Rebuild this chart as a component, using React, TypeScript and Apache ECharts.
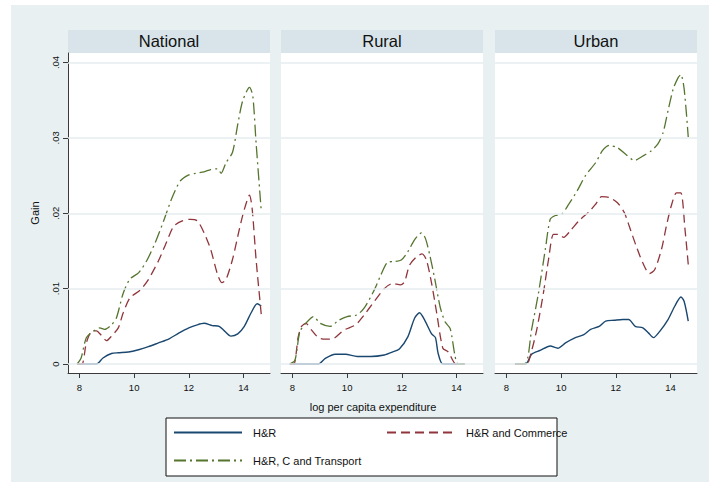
import React, { useEffect, useRef } from "react";
import * as echarts from "echarts";

const panels = ["National", "Rural", "Urban"];
const seriesNames = ["H&R", "H&R and Commerce", "H&R, C and Transport"];
const xTicks = [8, 10, 12, 14];
const yTicks = [0, 0.01, 0.02, 0.03, 0.04];

// National
const nationalHR: [number, number][] = [
  [7.91, 0], [8.62, 0], [8.86, 0.0008], [9.17, 0.0014], [9.42, 0.0015], [9.79, 0.0016],
  [10.16, 0.0019], [10.52, 0.0023], [10.89, 0.0028], [11.26, 0.0033], [11.63, 0.0041],
  [12.0, 0.0048], [12.31, 0.0052], [12.56, 0.0054], [12.86, 0.0051], [13.11, 0.005],
  [13.3, 0.0044], [13.54, 0.0037], [13.79, 0.004], [14.03, 0.005], [14.28, 0.0068],
  [14.5, 0.008], [14.65, 0.0077],
];
const nationalHRC: [number, number][] = [
  [7.91, 0], [8.09, 0], [8.25, 0.0028], [8.43, 0.0043], [8.62, 0.0044], [8.8, 0.0038],
  [8.99, 0.0031], [9.17, 0.0037], [9.42, 0.0048], [9.6, 0.0068], [9.85, 0.0088],
  [10.22, 0.0098], [10.52, 0.0112], [10.89, 0.0137], [11.2, 0.0163], [11.45, 0.0183],
  [11.76, 0.019], [12.06, 0.0192], [12.31, 0.019], [12.56, 0.0174], [12.8, 0.0152],
  [13.05, 0.0119], [13.21, 0.0108], [13.36, 0.0112], [13.6, 0.0139], [13.85, 0.0179],
  [14.03, 0.0205], [14.22, 0.0224], [14.32, 0.0205], [14.46, 0.0139], [14.65, 0.0066],
];
const nationalHRCT: [number, number][] = [
  [7.91, 0], [8.06, 0.0008], [8.25, 0.0035], [8.49, 0.0043], [8.74, 0.0048], [8.92, 0.0046],
  [9.17, 0.0052], [9.35, 0.0061], [9.6, 0.0094], [9.85, 0.0113], [10.16, 0.0121],
  [10.46, 0.0137], [10.77, 0.0161], [11.08, 0.019], [11.39, 0.0221], [11.69, 0.0243],
  [12.0, 0.0251], [12.25, 0.0253], [12.56, 0.0255], [12.8, 0.0258], [13.05, 0.0259],
  [13.18, 0.0253], [13.36, 0.0267], [13.6, 0.0281], [13.79, 0.0318], [13.97, 0.0349],
  [14.22, 0.0367], [14.34, 0.0356], [14.46, 0.0294], [14.65, 0.0203],
];

// Rural
const ruralHR: [number, number][] = [
  [7.9, 0], [8.95, 0], [9.2, 0.00075], [9.57, 0.0013], [9.94, 0.0013], [10.37, 0.001],
  [10.86, 0.001], [11.36, 0.0012], [11.67, 0.0016], [11.91, 0.002], [12.22, 0.0036],
  [12.47, 0.0061], [12.65, 0.0068], [12.84, 0.0058], [13.09, 0.004], [13.23, 0.0035],
  [13.33, 0.0014], [13.5, 0], [14.3, 0],
];
const ruralHRC: [number, number][] = [
  [7.9, 0], [8.05, 0], [8.21, 0.0036], [8.33, 0.005], [8.49, 0.0054], [8.7, 0.0045],
  [8.95, 0.0035], [9.2, 0.0033], [9.51, 0.0034], [9.88, 0.0045], [10.31, 0.0052],
  [10.62, 0.0065], [10.99, 0.0083], [11.36, 0.01], [11.67, 0.0107], [11.95, 0.0105],
  [12.1, 0.0109], [12.28, 0.0131], [12.53, 0.0142], [12.74, 0.0146], [12.9, 0.0138],
  [13.09, 0.0107], [13.27, 0.0069], [13.5, 0.0021], [13.7, 0.0016], [13.98, 0], [14.3, 0],
];
const ruralHRCT: [number, number][] = [
  [7.9, 0], [8.09, 0.0005], [8.27, 0.0043], [8.46, 0.0053], [8.77, 0.0063], [9.01, 0.0054],
  [9.38, 0.005], [9.69, 0.0058], [10.0, 0.0063], [10.35, 0.0065], [10.62, 0.0074],
  [10.99, 0.0098], [11.23, 0.0118], [11.48, 0.0135], [11.73, 0.0136], [11.98, 0.0138],
  [12.22, 0.0149], [12.47, 0.0165], [12.72, 0.0174], [12.86, 0.0167], [13.02, 0.0145],
  [13.21, 0.0112], [13.4, 0.0076], [13.58, 0.0056], [13.77, 0.0047], [13.95, 0.001],
  [14.05, 0], [14.3, 0],
];

// Urban
const urbanHR: [number, number][] = [
  [8.31, 0], [8.7, 0], [8.92, 0.0013], [9.23, 0.0018], [9.6, 0.0024], [9.88, 0.0021],
  [10.16, 0.0028], [10.52, 0.0035], [10.83, 0.0039], [11.08, 0.0046], [11.39, 0.005],
  [11.63, 0.0057], [11.94, 0.0058], [12.25, 0.0059], [12.47, 0.0059], [12.71, 0.005],
  [12.99, 0.0048], [13.2, 0.0041], [13.38, 0.0035], [13.6, 0.0043], [13.91, 0.0059],
  [14.16, 0.0077], [14.38, 0.0089], [14.5, 0.0083], [14.65, 0.0057],
];
const urbanHRC: [number, number][] = [
  [8.31, 0], [8.74, 0], [8.9, 0.0015], [9.11, 0.0046], [9.35, 0.0094], [9.54, 0.0139],
  [9.72, 0.0172], [9.91, 0.0172], [10.09, 0.0168], [10.34, 0.0177], [10.65, 0.019],
  [11.02, 0.0202], [11.26, 0.0212], [11.48, 0.0222], [11.76, 0.0221], [12.06, 0.0214],
  [12.31, 0.0201], [12.49, 0.0183], [12.74, 0.0157], [12.99, 0.0134], [13.23, 0.012],
  [13.42, 0.0125], [13.67, 0.0152], [13.85, 0.0183], [14.03, 0.021], [14.22, 0.0227],
  [14.38, 0.0227], [14.53, 0.0179], [14.65, 0.0132],
];
const urbanHRCT: [number, number][] = [
  [8.31, 0], [8.7, 0.0001], [8.92, 0.0046], [9.17, 0.0094], [9.42, 0.0152], [9.6, 0.0192],
  [9.79, 0.0197], [10.03, 0.0199], [10.28, 0.0212], [10.59, 0.023], [10.89, 0.025],
  [11.26, 0.0267], [11.51, 0.0283], [11.76, 0.029], [12.06, 0.0287], [12.37, 0.0278],
  [12.68, 0.027], [12.99, 0.0276], [13.3, 0.0283], [13.54, 0.0292], [13.73, 0.0307],
  [13.91, 0.0336], [14.1, 0.0365], [14.28, 0.038], [14.38, 0.0384], [14.5, 0.0365],
  [14.65, 0.0301],
];

const panelData = [
  [nationalHR, nationalHRC, nationalHRCT],
  [ruralHR, ruralHRC, ruralHRCT],
  [urbanHR, urbanHRC, urbanHRCT],
];

const FONT = "'Liberation Sans', Arial, sans-serif";
const BG = "#E8F0F2";
const BAR = "#D8E4EA";
const GRIDLINE = "#E6EEF1";
const AXIS = "#3a3a3a";
const COLORS = ["#1a476f", "#90353b", "#55752f"];
const LINE_TYPES: any[] = ["solid", [9, 5], [12, 4, 2, 4]];
const WIDTHS = [1.4, 1.3, 1.3];

const GRID_LEFTS = [68, 281, 495];
const GRID_TOP = 53;
const GRID_W = 202;
const GRID_H = 320;
const X_MIN = 7.58;
const X_MAX = 14.97;
const Y_MIN = -0.00119;
const Y_MAX = 0.04126;

export default function App() {
  const ref = useRef<HTMLDivElement>(null);
  useEffect(() => {
    if (!ref.current) return;
    const chart = echarts.init(ref.current, null, { renderer: "svg" });

    const grids = GRID_LEFTS.map((left) => ({
      left,
      top: GRID_TOP,
      width: GRID_W,
      height: GRID_H,
      show: true,
      backgroundColor: "#ffffff",
      borderWidth: 0,
      containLabel: false,
    }));

    const xAxes = GRID_LEFTS.map((_, i) => ({
      type: "value",
      gridIndex: i,
      min: X_MIN,
      max: X_MAX,
      axisLine: { show: true, onZero: false, lineStyle: { color: AXIS, width: 1 } },
      axisTick: { show: true, length: 5, customValues: xTicks, lineStyle: { color: AXIS } },
      axisLabel: {
        show: true,
        customValues: xTicks,
        margin: 9,
        fontSize: 9.5,
        color: "#111",
        fontFamily: FONT,
      },
      splitLine: { show: false },
    }));

    const yAxes = GRID_LEFTS.map((_, i) => ({
      type: "value",
      gridIndex: i,
      min: Y_MIN,
      max: Y_MAX,
      show: i === 0,
      axisLine: { show: true, lineStyle: { color: AXIS, width: 1 } },
      axisTick: { show: true, length: 5, customValues: yTicks, lineStyle: { color: AXIS } },
      axisLabel: {
        show: true,
        customValues: yTicks,
        rotate: 90,
        margin: 8,
        fontSize: 9.5,
        color: "#111",
        fontFamily: FONT,
        formatter: (v: number) => (v === 0 ? "0" : v.toFixed(2).replace(/^0/, "")),
      },
      splitLine: { show: false },
    }));

    const series: any[] = [];
    panelData.forEach((sets, gi) => {
      series.push({
        type: "line",
        name: "grid" + gi,
        xAxisIndex: gi,
        yAxisIndex: gi,
        data: [[8, 0]],
        symbol: "none",
        silent: true,
        lineStyle: { opacity: 0 },
        z: 1,
        markLine: {
          silent: true,
          symbol: ["none", "none"],
          label: { show: false },
          lineStyle: { color: GRIDLINE, width: 1.5, type: "solid" },
          data: yTicks.map((v) => ({ yAxis: v })),
        },
      });
      sets.forEach((data, si) => {
        series.push({
          type: "line",
          name: seriesNames[si],
          xAxisIndex: gi,
          yAxisIndex: gi,
          data,
          symbol: "none",
          smooth: 0.25,
          z: 3,
          color: COLORS[si],
          lineStyle: { color: COLORS[si], width: WIDTHS[si], type: LINE_TYPES[si] },
        });
      });
    });

    const legendBase = {
      orient: "horizontal",
      padding: 0,
      itemWidth: 68,
      itemHeight: 14,
      selectedMode: false,
      itemStyle: { opacity: 0 },
      textStyle: { fontSize: 11, color: "#111", fontFamily: FONT, padding: [0, 0, 0, 6] },
    };

    const option: any = {
      animation: false,
      backgroundColor: "#ffffff",
      title: panels.map((p, i) => ({
        text: p,
        left: GRID_LEFTS[i] + GRID_W / 2,
        top: 32,
        textAlign: "center",
        padding: 0,
        textStyle: { fontSize: 16.5, fontWeight: "normal", color: "#111", fontFamily: FONT },
      })),
      grid: grids,
      xAxis: xAxes,
      yAxis: yAxes,
      series,
      legend: [
        { ...legendBase, data: [seriesNames[0]], left: 173, top: 427 },
        { ...legendBase, data: [seriesNames[1]], left: 386, top: 427 },
        { ...legendBase, data: [seriesNames[2]], left: 173, top: 455 },
      ],
      graphic: [
        {
          type: "rect",
          z: -10,
          silent: true,
          shape: { x: 11, y: 5, width: 709 - 11, height: 482 - 5 },
          style: { fill: BG },
        },
        ...GRID_LEFTS.map((left) => ({
          type: "rect",
          z: -5,
          silent: true,
          shape: { x: left, y: 30, width: GRID_W, height: 23 },
          style: { fill: BAR },
        })),
        {
          type: "rect",
          z: -5,
          silent: true,
          shape: { x: 166, y: 418, width: 391, height: 58 },
          style: { fill: "#ffffff", stroke: "#111", lineWidth: 1 },
        },
        {
          type: "text",
          silent: true,
          x: 373,
          y: 407,
          style: {
            text: "log per capita expenditure",
            fontSize: 11,
            fontFamily: FONT,
            fill: "#111",
            align: "center",
            verticalAlign: "middle",
          },
        },
        {
          type: "text",
          silent: true,
          x: 35,
          y: 213,
          rotation: Math.PI / 2,
          style: {
            text: "Gain",
            fontSize: 11,
            fontFamily: FONT,
            fill: "#111",
            align: "center",
            verticalAlign: "middle",
          },
        },
      ],
    };

    chart.setOption(option);
    return () => chart.dispose();
  }, []);

  return (
    <div
      ref={ref}
      style={{ position: "absolute", left: 0, top: 0, width: 709, height: 482 }}
    />
  );
}
